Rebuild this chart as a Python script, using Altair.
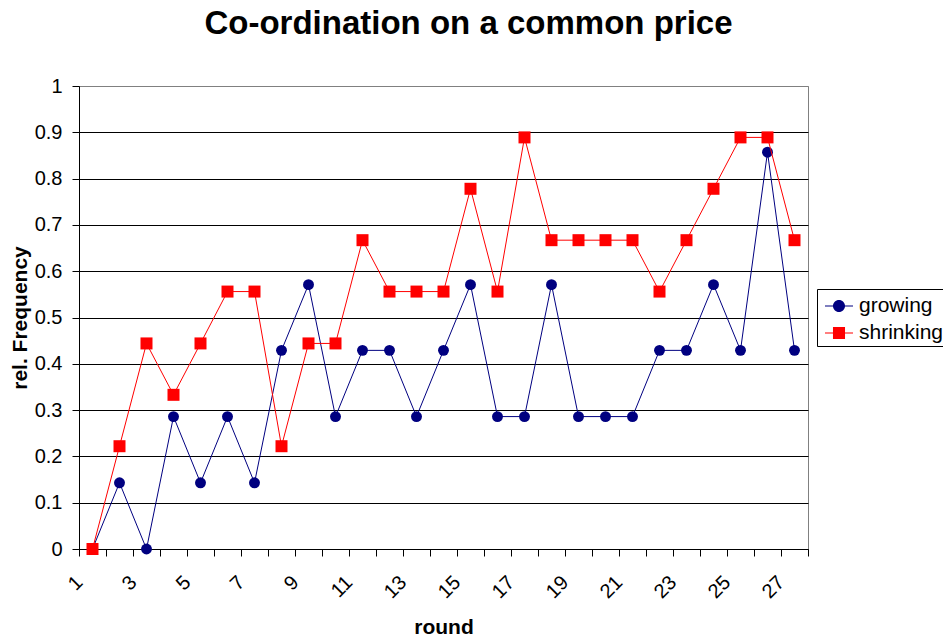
import altair as alt
import pandas as pd

rounds = list(range(1, 28))
growing = [0, 0.143, 0, 0.286, 0.143, 0.286, 0.143, 0.429, 0.571, 0.286,
           0.429, 0.429, 0.286, 0.429, 0.571, 0.286, 0.286, 0.571, 0.286, 0.286,
           0.286, 0.429, 0.429, 0.571, 0.429, 0.857, 0.429]
shrinking = [0, 0.222, 0.444, 0.333, 0.444, 0.556, 0.556, 0.222, 0.444, 0.444,
             0.667, 0.556, 0.556, 0.556, 0.778, 0.556, 0.889, 0.667, 0.667, 0.667,
             0.667, 0.556, 0.667, 0.778, 0.889, 0.889, 0.667]
series_names = ["growing", "shrinking"]
series_colors = ["#000080", "#FF0000"]
y_ticks = [i / 10 for i in range(11)]
x_ticks = [i + 0.5 for i in range(28)]

rows = []
for r, g, s in zip(rounds, growing, shrinking):
    rows.append({"round": r, "value": g, "series": "growing"})
    rows.append({"round": r, "value": s, "series": "shrinking"})
df = pd.DataFrame(rows)

FONT = "Liberation Sans"

x_enc = alt.X(
    "round:Q",
    scale=alt.Scale(domain=[0.5, 27.5], nice=False, zero=False),
    axis=alt.Axis(
        values=x_ticks,
        labelExpr="((datum.value + 0.5) % 2 == 1) ? toString(datum.value + 0.5) : ''",
        labelAngle=-45, labelAlign="right", labelBaseline="middle",
        labelPadding=23, labelFontSize=20, labelFont=FONT,
        labelOverlap=False, labelFlush=False, labelBound=False,
        tickSize=7, tickColor="black", domainColor="black", grid=False,
        title="round", titleFont=FONT, titleFontSize=21, titleFontWeight="bold",
        titleY=84, titleBaseline="alphabetic",
    ),
)
y_enc = alt.Y(
    "value:Q",
    scale=alt.Scale(domain=[0, 1], nice=False),
    axis=alt.Axis(
        values=y_ticks, format=".1~f",
        labelFontSize=20, labelFont=FONT, labelPadding=10,
        tickSize=7, tickColor="black", domainColor="black",
        grid=True, gridWidth=1,
        gridColor={"condition": {"test": "datum.value >= 0.99", "value": "#808080"}, "value": "black"},
        title="rel. Frequency", titleFont=FONT, titleFontSize=21, titleFontWeight="bold",
        titleX=-53, titleBaseline="alphabetic",
    ),
)

base = alt.Chart(df)

line_g = base.transform_filter(alt.datum.series == "growing").mark_line(
    color=series_colors[0], strokeWidth=1).encode(x=x_enc, y=y_enc)
pt_g = base.transform_filter(alt.datum.series == "growing").mark_point(
    shape="circle", filled=True, size=119, color=series_colors[0], opacity=1).encode(x=x_enc, y=y_enc)
line_s = base.transform_filter(alt.datum.series == "shrinking").mark_line(
    color=series_colors[1], strokeWidth=1).encode(x=x_enc, y=y_enc)
pt_s = base.transform_filter(alt.datum.series == "shrinking").mark_point(
    shape="square", filled=True, size=144, color=series_colors[1], opacity=1).encode(x=x_enc, y=y_enc)

circle_path = ("M-1,-0.036H1V0.036H-1Z "
               "M0.43,0C0.43,0.2375 0.2375,0.43 0,0.43C-0.2375,0.43 -0.43,0.2375 -0.43,0"
               "C-0.43,-0.2375 -0.2375,-0.43 0,-0.43C0.2375,-0.43 0.43,-0.2375 0.43,0Z")
square_path = "M-1,-0.036H1V0.036H-1Z M-0.43,-0.43H0.43V0.43H-0.43Z"

leg = alt.Legend(
    title=None, orient="none", legendX=738, legendY=203,
    strokeColor="black", fillColor="white", padding=3,
    symbolSize=784, symbolOffset=5, symbolStrokeWidth=0, symbolOpacity=1,
    labelFontSize=21, labelFont=FONT, labelOffset=6, rowPadding=3,
)
legend_layer = base.mark_point(filled=True, opacity=0).encode(
    x=x_enc, y=y_enc,
    color=alt.Color("series:N", scale=alt.Scale(domain=series_names, range=series_colors), legend=leg),
    shape=alt.Shape("series:N", scale=alt.Scale(domain=series_names, range=[circle_path, square_path]), legend=leg),
)

chart = alt.layer(line_g, pt_g, line_s, pt_s, legend_layer).properties(
    width=729, height=463,
    title=alt.TitleParams("Co-ordination on a common price", font=FONT, fontSize=33,
                          fontWeight="bold", anchor="middle", dx=25, offset=9,
                          baseline="alphabetic", color="black"),
    autosize=alt.AutoSizeParams(type="none"),
    padding={"left": 71, "top": 78, "right": 135, "bottom": 88},
).configure_view(stroke="#808080", strokeWidth=1).configure_axis(labelColor="black", titleColor="black")

chart.save("out.html", embed_options={"renderer": "svg", "actions": False})
